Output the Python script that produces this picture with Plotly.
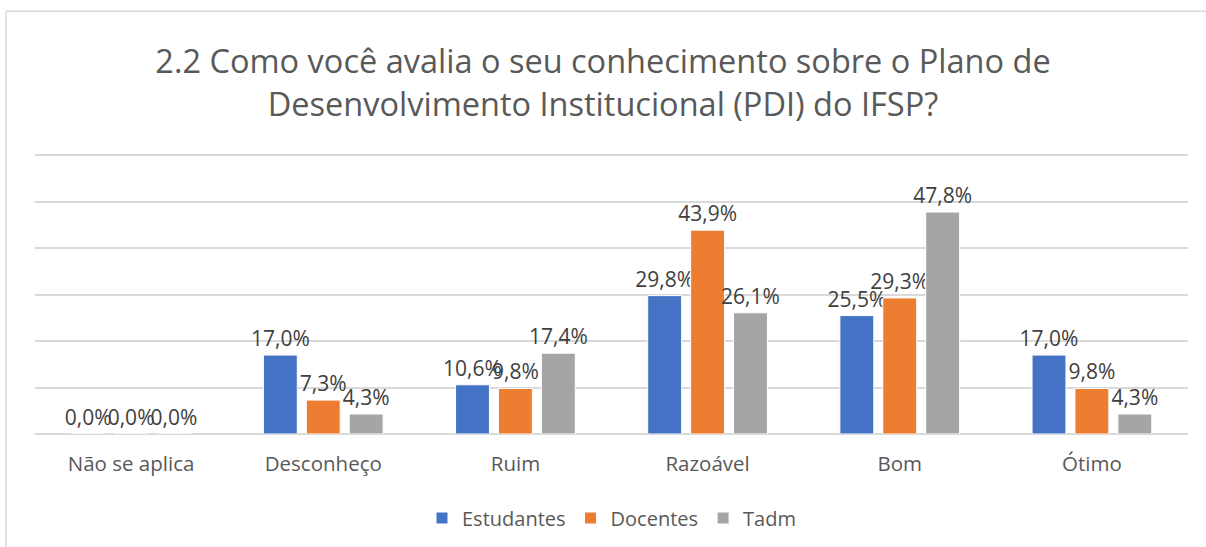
import plotly.graph_objects as go

# categories and series (percent)
categorias = ["Não se aplica", "Desconheço", "Ruim", "Razoável", "Bom", "Ótimo"]
estudantes = [0.0, 17.0, 10.6, 29.8, 25.5, 17.0]
docentes = [0.0, 7.3, 9.8, 43.9, 29.3, 9.8]
tadm = [0.0, 4.3, 17.4, 26.1, 47.8, 4.3]

series = [("Estudantes", estudantes, "#4472C4"),
          ("Docentes", docentes, "#ED7D31"),
          ("Tadm", tadm, "#A5A5A5")]

FONT = "Open Sans"

fig = go.Figure()
for nome, vals, cor in series:
    fig.add_trace(go.Bar(
        x=categorias, y=vals, name=nome,
        marker=dict(color=cor, line=dict(color="white", width=1)),
        text=[f"{v:.1f}%".replace(".", ",") for v in vals],
        textposition="outside", constraintext="none", cliponaxis=False,
        textfont=dict(family=FONT, size=21, color="#404040"),
    ))

fig.update_layout(
    width=1206, height=547,
    paper_bgcolor="white", plot_bgcolor="white",
    title=dict(text="2.2 Como você avalia o seu conhecimento sobre o Plano de<br>Desenvolvimento Institucional (PDI) do IFSP?",
               x=0.5, xanchor="center", y=0.866, yanchor="top",
               font=dict(family=FONT, size=32.5, color="#595959")),
    margin=dict(l=35, r=18, t=154, b=113, autoexpand=False),
    barmode="group", bargap=0.33, bargroupgap=0.21,
    showlegend=True,
    legend=dict(orientation="h", x=0.5, xanchor="center", y=-0.30, yanchor="middle",
                font=dict(family=FONT, size=20, color="#595959"),
                itemwidth=30, traceorder="normal"),
    xaxis=dict(showgrid=False, showline=False, ticks="", ticklabelstandoff=15,
               tickfont=dict(family=FONT, size=20.5, color="#595959")),
    yaxis=dict(range=[0, 60.3], dtick=10, showticklabels=False, showgrid=True,
               gridcolor="#D9D9D9", gridwidth=1.5, zeroline=True,
               zerolinecolor="#D9D9D9", zerolinewidth=1.5),
    shapes=[
        dict(type="line", xref="paper", yref="paper", x0=-0.0252, x1=1.1, y0=1.51, y1=1.51,
             line=dict(color="#D9D9D9", width=1.5)),
        dict(type="line", xref="paper", yref="paper", x0=-0.0252, x1=-0.0252, y0=-0.5, y1=1.51,
             line=dict(color="#D9D9D9", width=1.5)),
    ],
)

# drop the browser's default page margin so the chart sits at the window's corner
fig.write_html("out.html", config={"displayModeBar": False},
               post_script="document.body.style.margin='0';")
